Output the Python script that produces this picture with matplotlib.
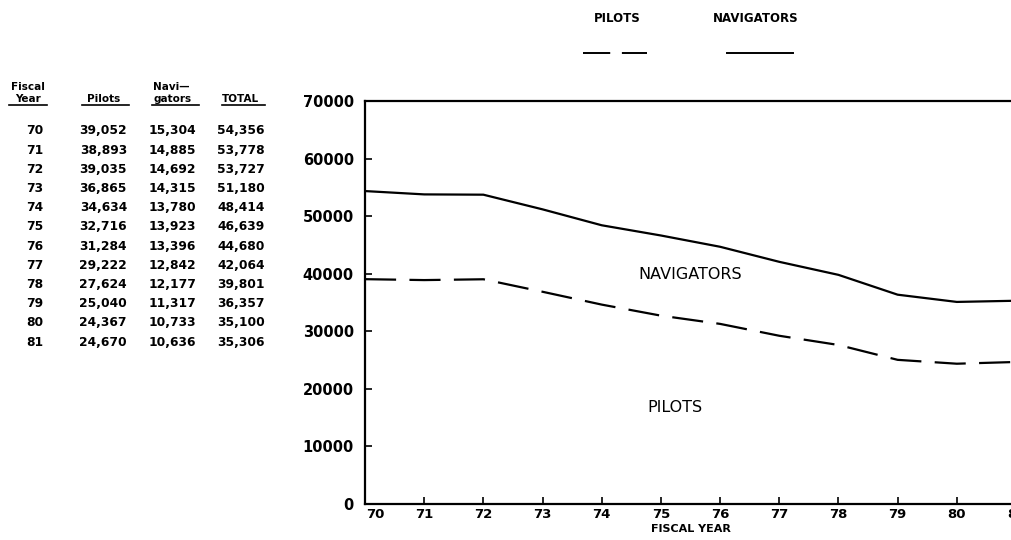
import matplotlib
matplotlib.use("Agg")
import matplotlib.pyplot as plt
import matplotlib.transforms as mtransforms
from matplotlib.lines import Line2D

W, H = 1011, 540

years = [70, 71, 72, 73, 74, 75, 76, 77, 78, 79, 80, 81]
pilots = [39052, 38893, 39035, 36865, 34634, 32716, 31284, 29222, 27624, 25040, 24367, 24670]
navigators = [15304, 14885, 14692, 14315, 13780, 13923, 13396, 12842, 12177, 11317, 10733, 10636]
totals = [54356, 53778, 53727, 51180, 48414, 46639, 44680, 42064, 39801, 36357, 35100, 35306]
y_ticks = [0, 10000, 20000, 30000, 40000, 50000, 60000, 70000]


def px(x, y):
    # pixel position (from top-left) -> figure fraction
    return x / W, 1 - y / H


def fmt(v):
    return f"{v:,}"


fig = plt.figure(figsize=(W / 100, H / 100), dpi=100)
ax = fig.add_axes([365 / W, 36 / H, (1016 - 365) / W, (504 - 101) / H])

ax.plot(years, pilots, color="black", lw=1.6, dashes=(14, 6))
ax.plot(years, totals, color="black", lw=1.6)
ax.set_xlim(70, 81)
ax.set_ylim(0, 70000)
ax.set_xticks(years)
ax.set_xticklabels([str(y) for y in years])
ax.set_yticks(y_ticks)
ax.set_yticklabels([str(v) for v in y_ticks])
ax.tick_params(direction="in", length=5, width=1.2)
ax.tick_params(axis="x", labelsize=9.5, pad=3)
ax.tick_params(axis="y", labelsize=10.5, pad=8)
for lab in ax.get_xticklabels() + ax.get_yticklabels():
    lab.set_fontweight("bold")
# first year label sits a bit right of the axis line
first = ax.get_xticklabels()[0]
first.set_transform(first.get_transform()
                    + mtransforms.ScaledTranslation(10 / 100, 0, fig.dpi_scale_trans))
for s in ax.spines.values():
    s.set_linewidth(1.6)
ax.set_xlabel("FISCAL YEAR", fontsize=8, fontweight="bold", labelpad=2)

ax.text(75.49, 39800, "NAVIGATORS", fontsize=11.5, ha="center", va="center")
ax.text(75.24, 16700, "PILOTS", fontsize=11.5, ha="center", va="center")

# legend at top
fig.text(*px(617, 18), "PILOTS", fontsize=8.5, fontweight="bold", ha="center", va="center")
fig.text(*px(756, 18), "NAVIGATORS", fontsize=8.5, fontweight="bold", ha="center", va="center")
fig.add_artist(Line2D([583 / W, 647 / W], [1 - 53 / H] * 2, color="black", lw=1.4, dashes=(14, 6)))
fig.add_artist(Line2D([727 / W, 793 / W], [1 - 53 / H] * 2, color="black", lw=1.4))

# data table
hdr = dict(fontsize=7.5, fontweight="bold", va="center")
fig.text(*px(28, 87), "Fiscal", ha="center", **hdr)
fig.text(*px(28, 99), "Year", ha="center", **hdr)
fig.text(*px(104, 99), "Pilots", ha="center", **hdr)
fig.text(*px(153, 87), "Navi\u2014", ha="left", **hdr)
fig.text(*px(153, 99), "gators", ha="left", **hdr)
fig.text(*px(222, 99), "TOTAL", ha="left", **hdr)
for x0, x1 in [(9, 47), (82, 129), (152, 199), (222, 265)]:
    fig.add_artist(Line2D([x0 / W, x1 / W], [1 - 105 / H] * 2, color="black", lw=1.2))

cols_right = [43, 127, 196, 265]
for i, yr in enumerate(years):
    yy = 131 + i * 19.2
    vals = [str(yr), fmt(pilots[i]), fmt(navigators[i]), fmt(totals[i])]
    for xr, v in zip(cols_right, vals):
        fig.text(*px(xr, yy), v, fontsize=8.8, fontweight="bold", ha="right", va="center")

fig.savefig("out.png", dpi=100)
